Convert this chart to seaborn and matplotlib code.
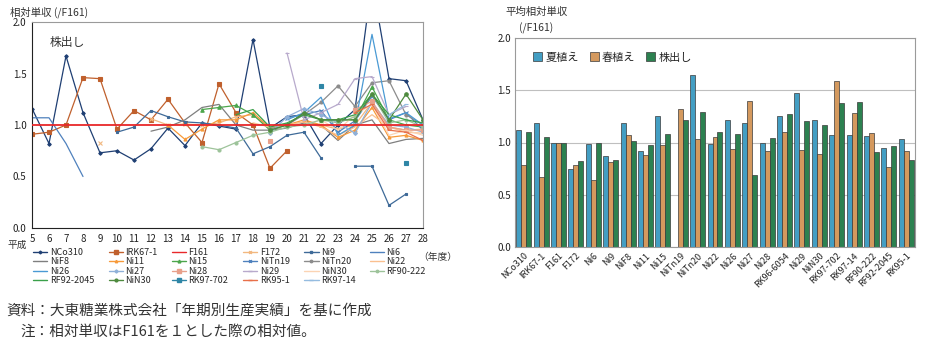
import numpy as np
import pandas as pd
import matplotlib
matplotlib.use("Agg")
import matplotlib.pyplot as plt
import seaborn as sns
from matplotlib.lines import Line2D

n = np.nan

# ---- left chart: ratoon relative yield by year (Heisei 5-28) ----
years = list(range(5, 29))

NCo310 = [1.16, 0.82, 1.67, 1.12, 0.73, 0.75, 0.66, 0.77, 0.97, 0.80, 1.02, 0.99, 0.96, 1.83, 0.97, 1.08, 1.10, 0.82, 1.00, 1.15, 2.40, 1.45, 1.43, 1.05]
IRK67_1 = [0.91, 0.93, 1.00, 1.46, 1.45, 0.96, 1.14, 1.05, 1.25, 1.02, 0.83, 1.40, 1.12, 1.00, 0.58, 0.75] + [n] * 8
F161 = [1.0] * 24
F172 = [n, n, n, n, 0.83, n, n, 1.06, 1.00, 1.01, 1.00, 1.02, 1.08, 1.10, 0.97, 1.00, 1.03, 1.00, 0.96, 1.00, 1.22, 0.98, 0.95, 0.96]
Ni9 = [n, n, n, n, n, 0.93, 0.98, 1.14, 1.08, 1.03, 1.02, 1.00, 0.97, 0.72, 0.79, 0.90, 0.93, 0.68, n, 0.60, 0.60, 0.22, 0.33, n]
Ni6 = [1.07, 1.07, 0.82, 0.50] + [n] * 20
NiF8 = [n] * 7 + [0.94, 0.98, 1.05, 1.17, 1.20, 1.00, 0.95, 0.95, 0.97, 1.02, 1.00, 0.85, 1.00, 1.05, 0.82, 0.86, 0.87]
Ni11 = [n] * 8 + [1.00, 0.86, 0.96, 1.05, 1.05, 1.12, 0.97, 1.00, 1.05, 1.00, 0.88, 0.95, 1.17, 0.88, 0.90, 0.85]
Ni15 = [n] * 10 + [1.15, 1.17, 1.19, 1.10, 0.95, 1.00, 1.12, 1.05, 1.05, 1.05, 1.37, 1.05, 1.00, 0.98]
NiTn19 = [n] * 15 + [1.07, 1.10, 1.14, 0.93, 1.04, 1.28, 1.05, 1.12, 0.95]
NiTn20 = [n] * 14 + [0.97, 1.00, 1.10, 1.22, 1.38, 1.18, 1.41, 1.43, 1.10, 1.00]
Ni22 = [n] * 13 + [1.02, 0.98, 1.00, 1.03, 0.98, 0.90, 0.98, 1.10, 0.98, 0.93, 0.92]
Ni26 = [n] * 15 + [1.05, 1.12, 1.27, 0.90, 1.00, 1.88, 1.06, 1.12, 1.00]
Ni27 = [n] * 14 + [0.92, 1.08, 1.16, 1.10, 1.02, 0.92, 1.22, 1.00, 0.98, 0.93]
Ni28 = [n] * 14 + [0.84, n, n, n, n, 1.15, 1.23, 0.98, 0.95, 0.95]
Ni29 = [n] * 15 + [1.70, 1.05, 1.12, 1.20, 1.45, 1.47, 1.10, 1.18, n]
NiN30a = [n] * 16 + [1.00, 1.05, 0.95, 1.10, 1.20, 0.90, 0.95, 0.90]
RF90_222 = [n] * 10 + [0.79, 0.76, 0.83, 0.90, 0.93, 0.98, 1.00, 1.05, 1.02, 1.08, 1.30, 1.02, 1.05, 0.98]
RF92_2045 = [n] * 12 + [1.10, 1.15, 0.98, 1.02, 1.10, 1.05, 1.05, 1.10, 1.30, 1.10, 1.05, 1.02]
NiN30b = [n] * 14 + [0.95, 1.00, 1.12, 1.05, 1.05, 1.05, 1.30, 1.05, 1.30, 1.05]
RK97_702 = [n] * 17 + [1.38, n, n, n, n, 0.63, n]
RK95_1 = [n] * 19 + [1.12, 1.20, 0.95, 0.93, 0.85]
RK97_14 = [n] * 21 + [1.10, 1.20, n]

line_names = ["NCo310", "IRK67-1", "F161", "F172", "Ni9", "Ni6",
              "NiF8", "Ni11", "Ni15", "NiTn19", "NiTn20", "Ni22",
              "Ni26", "Ni27", "Ni28", "Ni29", "NiN30", "RF90-222",
              "RF92-2045", "NiN30", "RK97-702", "RK95-1", "RK97-14"]
line_values = [NCo310, IRK67_1, F161, F172, Ni9, Ni6,
               NiF8, Ni11, Ni15, NiTn19, NiTn20, Ni22,
               Ni26, Ni27, Ni28, Ni29, NiN30a, RF90_222,
               RF92_2045, NiN30b, RK97_702, RK95_1, RK97_14]
line_colors = ["#1F3F73", "#C0602D", "#E8282A", "#F2B880", "#3E6A98", "#4F81BD",
               "#7F7F7F", "#F79A3A", "#4CA64C", "#4F81BD", "#8C8C8C", "#FAC08F",
               "#4A9AD4", "#8FB0D8", "#E8A08A", "#B8AACC", "#FBD4B4", "#9DC39A",
               "#3AA04A", "#4E8A3E", "#2F86A6", "#E8704A", "#95BCE0"]
line_markers = ["D", "s", None, "x", "s", None,
                None, "^", "^", "x", "o", None,
                None, "D", "s", "_", None, "o",
                None, "o", "s", "_", "_"]
line_msize = [1.8, 3.5, 0, 2.5, 1.8, 0,
              0, 2.2, 2.5, 2.5, 2.2, 0,
              0, 2, 3.2, 3.5, 0, 2.2,
              0, 2.5, 3.2, 3.5, 3.5]

# ---- right chart: mean relative yield by variety ----
varieties = ["NCo310", "IRK67-1", "F161", "F172", "Ni6", "Ni9", "NiF8", "Ni11", "Ni15",
             "NiTn19", "NiTn20", "Ni22", "Ni26", "Ni27", "Ni28", "RK96-6054", "Ni29",
             "NiN30", "RK97-702", "RK97-14", "RF90-222", "RF92-2045", "RK95-1"]
summer = [1.12, 1.19, 1.00, 0.75, 0.99, 0.87, 1.19, 0.92, 1.25, n, 1.65, 0.99,
          1.22, 1.19, 1.00, 1.25, 1.47, 1.22, 1.07, 1.07, 1.06, 0.95, 1.03]
spring = [0.78, 0.67, 1.00, 0.78, 0.64, 0.81, 1.07, 0.88, 0.98, 1.32, 1.03, 1.05,
          0.94, 1.40, 0.92, 1.10, 0.93, 0.89, 1.59, 1.28, 1.09, 0.77, 0.92]
ratoon = [1.10, 1.05, 1.00, 0.82, 1.00, 0.83, 1.01, 0.98, 1.08, 1.22, 1.29, 1.10,
          1.08, 0.69, 1.04, 1.27, 1.21, 1.17, 1.38, 1.39, 0.91, 0.97, 0.83]
types = ["夏植え", "春植え", "株出し"]
bar_colors = ["#2EA7D8", "#E8994A", "#1E8F4E"]

sns.set_theme(style="white")
plt.rcParams["font.family"] = ["Noto Sans CJK JP", "DejaVu Sans"]

fig = plt.figure(figsize=(9.4, 3.52), dpi=100)

# left: line chart
ax1 = fig.add_axes([32 / 940, 1 - 228 / 352, 391 / 940, 206 / 352])
rows = []
for i, vals in enumerate(line_values):
    seg = 0
    prev = False
    for yr, v in zip(years, vals):
        if np.isnan(v):
            prev = False
            continue
        if not prev:
            seg += 1
        rows.append((i, yr, v, seg))
        prev = True
df_line = pd.DataFrame(rows, columns=["sid", "year", "value", "seg"])

for i in range(len(line_names)):
    sub = df_line[df_line["sid"] == i]
    c = line_colors[i]
    kw = dict(marker=line_markers[i], markersize=line_msize[i],
              markeredgecolor=c, markerfacecolor=c, markeredgewidth=0.8)
    if line_markers[i] is None:
        kw = {}
    sns.lineplot(data=sub, x="year", y="value", units="seg", estimator=None,
                 color=c, linewidth=1.3 if i == 2 else 0.9,
                 zorder=5 if i == 2 else 2, ax=ax1, legend=False, **kw)

ax1.set_xlim(5, 28)
ax1.set_ylim(0, 2.0)
ax1.set_xticks(years)
ax1.set_xticklabels([str(y) for y in years], fontsize=7)
ax1.set_yticks([0, 0.5, 1.0, 1.5, 2.0])
ax1.set_yticklabels(["0.0", "0.5", "1.0", "1.5", "2.0"], fontsize=7)
ax1.set_xlabel("")
ax1.set_ylabel("")
ax1.tick_params(axis="both", length=2, pad=2, colors="#222222")
for s in ["left", "bottom"]:
    ax1.spines[s].set_color("#222222")
for s in ["top", "right"]:
    ax1.spines[s].set_color("#9A9A9A")
for s in ax1.spines.values():
    s.set_linewidth(0.8)
ax1.text(0.045, 0.93, "株出し", transform=ax1.transAxes, fontsize=8.5,
         va="top", color="#333333")

handles = []
for i in range(len(line_names)):
    h = Line2D([], [], color=line_colors[i], lw=1,
               marker=line_markers[i] if line_markers[i] else None,
               markersize=line_msize[i] * 0.8, markeredgecolor=line_colors[i])
    handles.append(h)
order = []
for j in range(6):
    for r in range(4):
        k = r * 6 + j
        if k < len(line_names):
            order.append(k)
fig.legend([handles[k] for k in order], [line_names[k] for k in order],
           loc="upper left", bbox_to_anchor=(33 / 940, 1 - 248 / 352), ncol=6,
           fontsize=6.5, frameon=False, handlelength=1.6, handletextpad=0.25,
           columnspacing=1.6, labelspacing=0.05, borderpad=0, borderaxespad=0)

fig.text(10 / 940, 1 - 12 / 352, "相対単収 (/F161)", fontsize=7.5, va="center",
         color="#333333")
fig.text(7 / 940, 1 - 245 / 352, "平成", fontsize=7, va="center", color="#333333")
fig.text(418 / 940, 1 - 257 / 352, "（年度）", fontsize=7, va="center",
         color="#333333")

# right: bar chart
ax2 = fig.add_axes([515 / 940, 1 - 247 / 352, 400 / 940, 209 / 352])
df_bar = pd.DataFrame({
    "variety": varieties * 3,
    "type": [types[0]] * 23 + [types[1]] * 23 + [types[2]] * 23,
    "value": summer + spring + ratoon,
})
sns.barplot(data=df_bar, x="variety", y="value", hue="type", order=varieties,
            hue_order=types, palette=bar_colors, errorbar=None, width=0.86,
            edgecolor="#3A3A3A", linewidth=0.5, ax=ax2)
ax2.set_xlim(-0.5, 22.5)
ax2.set_ylim(0, 2.0)
ax2.set_yticks([0, 0.5, 1.0, 1.5, 2.0])
ax2.set_yticklabels(["0.0", "0.5", "1.0", "1.5", "2.0"], fontsize=7)
ax2.yaxis.grid(True, color="#BFBFBF", linewidth=0.8)
ax2.set_axisbelow(True)
ax2.set_xlabel("")
ax2.set_ylabel("")
ax2.set_xticks(range(len(varieties)))
ax2.set_xticklabels(varieties, rotation=45, ha="right", rotation_mode="anchor",
                    fontsize=6.5)
ax2.tick_params(axis="both", length=0, pad=3, colors="#222222")
for s in ax2.spines.values():
    s.set_color("#9A9A9A")
    s.set_linewidth(0.8)
h2, l2 = ax2.get_legend_handles_labels()
ax2.legend(h2, l2, loc="upper left", bbox_to_anchor=(0.02, 0.98), ncol=3,
           fontsize=8, frameon=False, handlelength=0.8, handleheight=0.8,
           handletextpad=0.3, columnspacing=1.0)

fig.text(505 / 940, 1 - 12 / 352, "平均相対単収", fontsize=7.5, va="center",
         color="#333333")
fig.text(519 / 940, 1 - 28 / 352, "(/F161)", fontsize=7.5, va="center",
         color="#333333")

# notes
fig.text(6 / 940, 1 - 311 / 352, "資料：大東糖業株式会社「年期別生産実績」を基に作成",
         fontsize=10.5, va="center", color="#333333")
fig.text(20 / 940, 1 - 332 / 352, "注：相対単収はF161を１とした際の相対値。",
         fontsize=10.5, va="center", color="#333333")

fig.savefig("out.png", dpi=100)
